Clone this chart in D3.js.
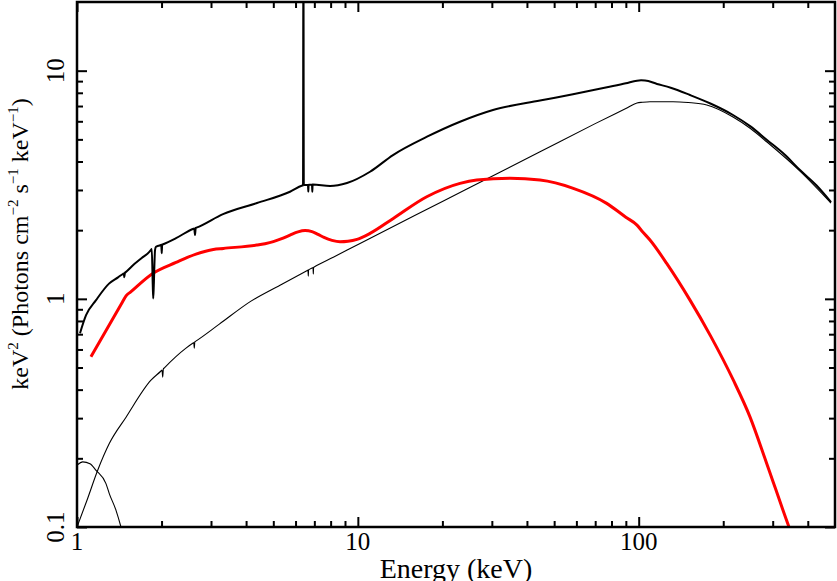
<!DOCTYPE html>
<html>
<head>
<meta charset="utf-8">
<script src="https://cdn.jsdelivr.net/npm/d3@7"></script>
<style>
  body { margin: 0; background: #fff; }
  text { font-family: "Liberation Serif", "Times New Roman", serif; fill: #000; }
</style>
</head>
<body>
<svg id="spectrum" width="837" height="581"></svg>
<script>
// energies (keV) and keV^2 flux values
const energyTotal = [1.025, 1.077, 1.169, 1.300, 1.40, 1.460, 1.467, 1.474, 1.481, 1.488, 1.60, 1.70, 1.809, 1.830, 1.846,
  1.861, 1.868, 1.877, 1.896, 1.911, 1.95, 1.990, 1.996, 2.003, 2.010, 2.017, 2.252, 2.600, 2.615, 2.631, 2.647, 2.662,
  3.311, 4.374, 5.733, 6.342, 6.36, 6.38, 6.40, 6.42, 6.44, 6.63, 6.645, 6.661, 6.677, 6.69, 6.855, 6.868, 6.884, 6.900,
  6.915, 7.960, 9.149, 11.05, 13.34, 17.63, 23.11, 30.28, 44.53, 58.34, 77.12, 90, 98.6, 102, 105.3, 116.2,
  130, 152.3, 180, 216.7, 250, 286.3, 330, 375.2, 430, 484];
const fluxTotal = [0.707, 0.848, 0.987, 1.166, 1.242, 1.288, 1.292, 1.245, 1.300, 1.306, 1.42, 1.51, 1.607, 1.635, 1.652,
  1.148, 1.004, 1.148, 1.635, 1.691, 1.708, 1.722, 1.725, 1.586, 1.728, 1.731, 1.845, 2.030, 2.035, 1.903, 2.047, 2.052,
  2.352, 2.629, 2.947, 3.137, 3.140, 3.143, 60, 3.150, 3.152, 3.154, 3.155, 2.950, 3.158, 3.159, 3.164, 3.165, 2.950, 3.168,
  3.169, 3.121, 3.217, 3.606, 4.268, 5.135, 5.974, 6.725, 7.402, 7.879, 8.458, 8.80, 9.04, 9.07, 9.06, 8.746,
  8.42, 7.823, 7.18, 6.393, 5.70, 4.968, 4.30, 3.668, 3.14, 2.656];

const energyRed = [1.121, 1.45, 1.495, 1.55, 1.861, 2.252, 2.653, 3.058, 3.318, 4.364, 4.671, 5.001, 5.326, 5.733, 6.122,
  6.484, 6.867, 7.213, 7.577, 8.090, 8.640, 9.225, 9.931, 11.05, 13.37, 17.59, 23.11, 26.50, 34.82, 44.53, 58.49, 76.92,
  90, 98.6, 103, 109.7, 125.8, 152.3, 180, 217.3, 249.0, 285.6, 342.9, 351.6];
const fluxRed = [0.557, 0.966, 1.031, 1.071, 1.292, 1.444, 1.571, 1.647, 1.664, 1.720, 1.745, 1.781, 1.830, 1.903, 1.965,
  1.991, 1.971, 1.918, 1.859, 1.804, 1.778, 1.787, 1.822, 1.936, 2.252, 2.802, 3.208, 3.316, 3.374, 3.316, 3.050, 2.621,
  2.279, 2.105, 1.975, 1.810, 1.430, 0.987, 0.690, 0.440, 0.304, 0.190, 0.100, 0.092];

const energyCutoffPL = [1.0, 1.0854, 1.185, 1.303, 1.495, 1.834, 1.995, 2.008, 2.019, 2.030, 2.043, 2.444, 2.590, 2.605, 2.616,
  2.627, 2.642, 3.212, 4.164, 5.283, 6.63, 6.645, 6.661, 6.677, 6.69, 6.91, 6.925, 6.941, 6.957, 6.97, 8.177, 10.18, 20,
  44.53, 70, 90, 98.6, 103, 109.7, 132.5, 150, 174.7, 216.7, 250, 286.3, 375.2, 484];
const fluxCutoffPL = [0.1, 0.131, 0.1773, 0.2321, 0.3029, 0.4399, 0.484, 0.488, 0.4535, 0.493, 0.497, 0.6078, 0.640, 0.643, 0.6078,
  0.648, 0.651, 0.7745, 0.977, 1.148, 1.335, 1.337, 1.258, 1.340, 1.342, 1.369, 1.371, 1.284, 1.374, 1.376, 1.522, 1.750, 2.672,
  4.413, 5.861, 6.83, 7.22, 7.27, 7.311, 7.311, 7.25, 7.072, 6.265, 5.578, 4.868, 3.631, 2.629];

const energyBB = [1.004, 1.048, 1.112, 1.169, 1.268, 1.303, 1.377, 1.434, 1.45];
const fluxBB = [0.1874, 0.1929, 0.1893, 0.1772, 0.155, 0.1401, 0.1183, 0.100, 0.095];

const xTickValues = [1, 10, 100];
const yTickValues = [0.1, 1, 10];

const svg = d3.select("#spectrum");
const plotLeft = 77, plotRight = 835, plotTop = 2, plotBottom = 527;

const x = d3.scaleLog().domain([1, 500]).range([plotLeft, plotRight]);
const y = d3.scaleLog().domain([0.1, 20]).range([plotBottom, plotTop]);

svg.append("defs").append("clipPath").attr("id", "plot-clip")
  .append("rect")
  .attr("x", plotLeft).attr("y", plotTop)
  .attr("width", plotRight - plotLeft).attr("height", plotBottom - plotTop);

// curves
const line = d3.line()
  .x(function (d) { return x(d[0]); })
  .y(function (d) { return y(d[1]); })
  .curve(d3.curveMonotoneX);

const curves = [
  { e: energyBB, f: fluxBB, color: "#000", w: 1.1 },
  { e: energyCutoffPL, f: fluxCutoffPL, color: "#000", w: 1.1 },
  { e: energyRed, f: fluxRed, color: "#ff0000", w: 3 },
  { e: energyTotal, f: fluxTotal, color: "#000", w: 2 }
];

const plot = svg.append("g").attr("clip-path", "url(#plot-clip)");
curves.forEach(function (c) {
  plot.append("path")
    .datum(d3.zip(c.e, c.f))
    .attr("fill", "none")
    .attr("stroke", c.color)
    .attr("stroke-width", c.w)
    .attr("stroke-linejoin", "round")
    .attr("d", line);
});

// ticks on all four sides, pointing inwards
const xMinor = x.ticks().filter(function (v) { return xTickValues.indexOf(v) < 0 && v > 1 && v < 500; });
const yMinor = y.ticks().filter(function (v) { return yTickValues.indexOf(Math.round(v * 10) / 10) < 0 && v > 0.1 && v < 20; });
const majorLen = 10, minorLen = 6;

function drawAxis(axis, tx, ty) {
  const g = svg.append("g")
    .attr("transform", `translate(${tx},${ty})`)
    .call(axis);
  g.select(".domain").remove();
  g.selectAll("line").attr("stroke", "#000").attr("stroke-width", 2);
}

drawAxis(d3.axisBottom(x).tickValues(xTickValues).tickSize(-majorLen).tickFormat(""), 0, plotBottom);
drawAxis(d3.axisBottom(x).tickValues(xMinor).tickSize(-minorLen).tickFormat(""), 0, plotBottom);
drawAxis(d3.axisTop(x).tickValues(xTickValues).tickSize(-majorLen).tickFormat(""), 0, plotTop);
drawAxis(d3.axisTop(x).tickValues(xMinor).tickSize(-minorLen).tickFormat(""), 0, plotTop);
drawAxis(d3.axisLeft(y).tickValues(yTickValues).tickSize(-majorLen).tickFormat(""), plotLeft, 0);
drawAxis(d3.axisLeft(y).tickValues(yMinor).tickSize(-minorLen).tickFormat(""), plotLeft, 0);
drawAxis(d3.axisRight(y).tickValues(yTickValues).tickSize(-majorLen).tickFormat(""), plotRight, 0);
drawAxis(d3.axisRight(y).tickValues(yMinor).tickSize(-minorLen).tickFormat(""), plotRight, 0);

// frame
svg.append("rect")
  .attr("x", plotLeft).attr("y", plotTop)
  .attr("width", plotRight - plotLeft).attr("height", plotBottom - plotTop)
  .attr("fill", "none")
  .attr("stroke", "#000")
  .attr("stroke-width", 2.5);

// tick labels
svg.selectAll(".xlabel")
  .data(xTickValues)
  .enter().append("text")
  .attr("class", "xlabel")
  .attr("x", function (d) { return x(d); })
  .attr("y", 550)
  .attr("text-anchor", "middle")
  .attr("font-size", "25px")
  .text(function (d) { return d; });

svg.selectAll(".ylabel")
  .data(yTickValues)
  .enter().append("text")
  .attr("class", "ylabel")
  .attr("transform", function (d) { return `translate(63.5,${y(d)}) rotate(-90)`; })
  .attr("text-anchor", "middle")
  .attr("font-size", "25px")
  .text(function (d) { return d; });

// axis titles
svg.append("text")
  .attr("x", (plotLeft + plotRight) / 2)
  .attr("y", 578)
  .attr("text-anchor", "middle")
  .attr("font-size", "28px")
  .text("Energy (keV)");

const ytitle = svg.append("text")
  .attr("transform", "translate(28,244) rotate(-90)")
  .attr("text-anchor", "middle")
  .attr("font-size", "24px");

const titleParts = [
  ["keV", false], ["2", true], [" (Photons cm", false], ["\u22122", true],
  [" s", false], ["\u22121", true], [" keV", false], ["\u22121", true], [")", false]
];
titleParts.forEach(function (p, i) {
  const prevSup = i > 0 && titleParts[i - 1][1];
  const t = ytitle.append("tspan").text(p[0]);
  if (p[1]) t.attr("font-size", "15px").attr("dy", -10);
  else if (prevSup) t.attr("dy", 10);
});
</script>
</body>
</html>
